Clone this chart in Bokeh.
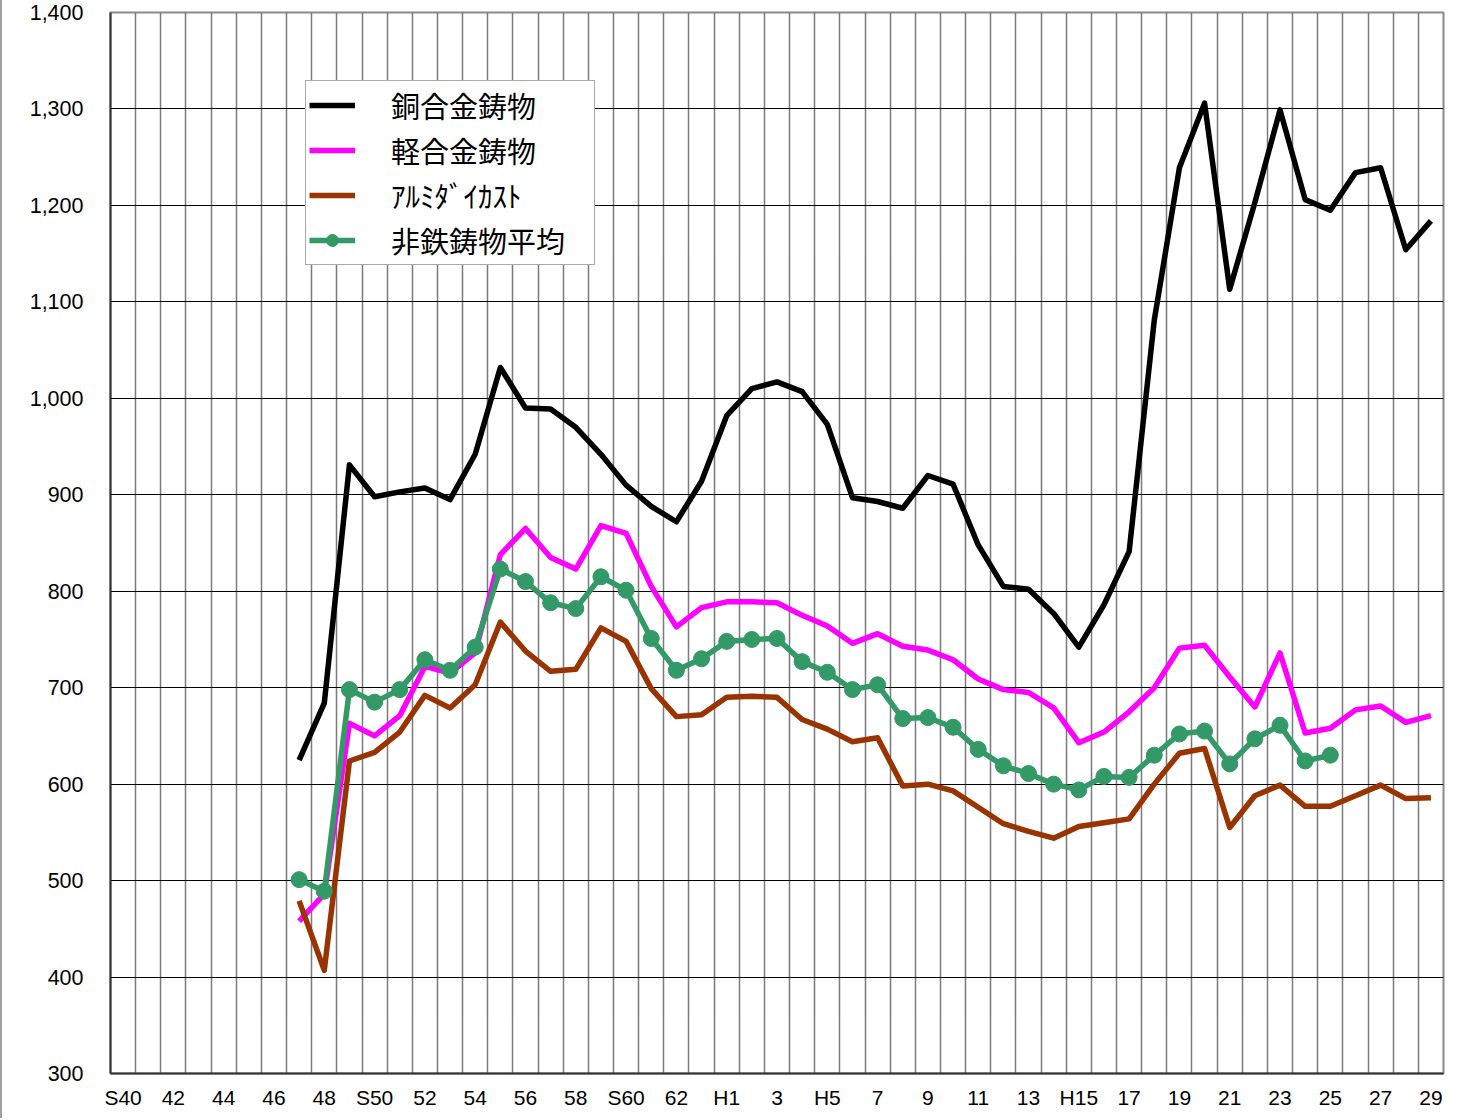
from bokeh.plotting import figure
from bokeh.models import Range1d, FixedTicker, NumeralTickFormatter, Legend, LegendItem
from bokeh.embed import file_html
from bokeh.resources import INLINE

# Year categories (Showa 40 .. Heisei 29)
categories = ["S40", "S41", "S42", "S43", "S44", "S45", "S46", "S47", "S48", "S49",
              "S50", "S51", "S52", "S53", "S54", "S55", "S56", "S57", "S58", "S59",
              "S60", "S61", "S62", "S63", "H1", "H2", "H3", "H4", "H5", "H6",
              "H7", "H8", "H9", "H10", "H11", "H12", "H13", "H14", "H15", "H16",
              "H17", "H18", "H19", "H20", "H21", "H22", "H23", "H24", "H25", "H26",
              "H27", "H28", "H29"]
tick_labels = ["S40", "42", "44", "46", "48", "S50", "52", "54", "56", "58", "S60", "62",
               "H1", "3", "H5", "7", "9", "11", "13", "H15", "17", "19", "21", "23", "25", "27", "29"]
y_ticks = [300, 400, 500, 600, 700, 800, 900, 1000, 1100, 1200, 1300, 1400]

# series start at S47
start_year = "S47"
copper = [625, 684, 931, 898, 903, 907, 895, 942, 1032, 990, 989, 970, 942, 910, 888, 872,
          914, 982, 1010, 1017, 1007, 973, 897, 893, 886, 920, 911, 848, 805, 802, 777, 742,
          786, 841, 1081, 1239, 1306, 1113, 1203, 1299, 1206, 1195, 1234, 1239, 1154, 1184]
light_alloy = [458, 486, 663, 650, 671, 722, 715, 736, 838, 865, 835, 823, 868, 860, 805, 763,
               783, 789, 789, 788, 775, 764, 746, 756, 743, 739, 729, 709, 698, 695, 679, 643,
               654, 675, 700, 741, 744, 711, 680, 736, 653, 658, 677, 681, 664, 671]
die_cast = [479, 407, 624, 633, 654, 692, 679, 703, 768, 738, 717, 719, 762, 748, 699, 670,
            672, 690, 691, 690, 667, 657, 644, 648, 598, 600, 593, 576, 559, 551, 544, 556,
            560, 564, 600, 632, 637, 555, 588, 599, 577, 577, 588, 599, 585, 586]
average = [501, 489, 698, 685, 698, 729, 718, 742, 823, 810, 788, 782, 815, 801, 751, 718,
           730, 748, 750, 751, 727, 716, 698, 703, 668, 669, 659, 636, 619, 611, 600, 594,
           608, 607, 630, 652, 655, 621, 647, 661, 624, 630]

names = ["銅合金鋳物", "軽合金鋳物", "ｱﾙﾐﾀﾞｲｶｽﾄ", "非鉄鋳物平均"]

s0 = categories.index(start_year)
def xs(vals):
    return [s0 + i for i in range(len(vals))]

p = figure(width=1461, height=1118, output_backend="svg", toolbar_location=None,
           x_range=Range1d(-0.5, len(categories) - 0.5), y_range=Range1d(y_ticks[0], y_ticks[-1]))
p.min_border_left = 108
p.min_border_right = 20
p.min_border_top = 12
p.min_border_bottom = 45
p.background_fill_color = "white"
p.border_fill_color = "white"
p.outline_line_color = "#8a8a8a"
p.outline_line_width = 2

# axes
p.xaxis.ticker = FixedTicker(ticks=list(range(0, len(categories), 2)))
p.xaxis.major_label_overrides = {i * 2: lab for i, lab in enumerate(tick_labels)}
p.yaxis.ticker = FixedTicker(ticks=y_ticks)
p.yaxis.formatter = NumeralTickFormatter(format="0,0")
for ax in (p.xaxis[0], p.yaxis[0]):
    ax.major_tick_out = 0
    ax.major_tick_in = 0
    ax.minor_tick_out = 0
    ax.minor_tick_in = 0
    ax.axis_line_color = "#333333"
    ax.axis_line_width = 2
    ax.major_label_text_font = "Liberation Sans"
    ax.major_label_text_color = "black"
p.xaxis.major_label_text_font_size = "21px"
p.yaxis.major_label_text_font_size = "21.5px"
p.xaxis.major_label_standoff = 12
p.yaxis.major_label_standoff = 27

# grids
p.xgrid.ticker = FixedTicker(ticks=[i - 0.5 for i in range(len(categories) + 1)])
p.xgrid.grid_line_color = "#7a7a7a"
p.xgrid.grid_line_width = 1.5
p.ygrid.ticker = FixedTicker(ticks=y_ticks)
p.ygrid.grid_line_color = "black"
p.ygrid.grid_line_width = 1

r1 = p.line(xs(copper), copper, line_color="black", line_width=5.5, line_join="round")
r2 = p.line(xs(light_alloy), light_alloy, line_color="#FF00FF", line_width=5.5, line_join="round")
r3 = p.line(xs(die_cast), die_cast, line_color="#993300", line_width=5.5, line_join="round")
r4 = p.line(xs(average), average, line_color="#339966", line_width=5.5, line_join="round")
r5 = p.scatter(xs(average), average, size=16, marker="circle", fill_color="#339966", line_color="#339966")

legend = Legend(items=[
    LegendItem(label=names[0], renderers=[r1]),
    LegendItem(label=names[1], renderers=[r2]),
    LegendItem(label=names[2], renderers=[r3]),
    LegendItem(label=names[3], renderers=[r4, r5]),
], location=(195, 808))
legend.label_text_font = "Noto Sans CJK JP"
legend.label_text_font_size = "29px"
legend.label_text_color = "black"
legend.glyph_width = 46
legend.glyph_height = 30
legend.label_height = 30
legend.label_width = 200
legend.label_standoff = 36
legend.spacing = 3
legend.padding = 3
legend.margin = 0
legend.border_line_color = "#555555"
legend.border_line_width = 1.5
legend.background_fill_alpha = 1.0
p.add_layout(legend)

p.styles = {"border-left": "2px solid #a0a0a0"}

open("out.html", "w").write(file_html(p, INLINE))
